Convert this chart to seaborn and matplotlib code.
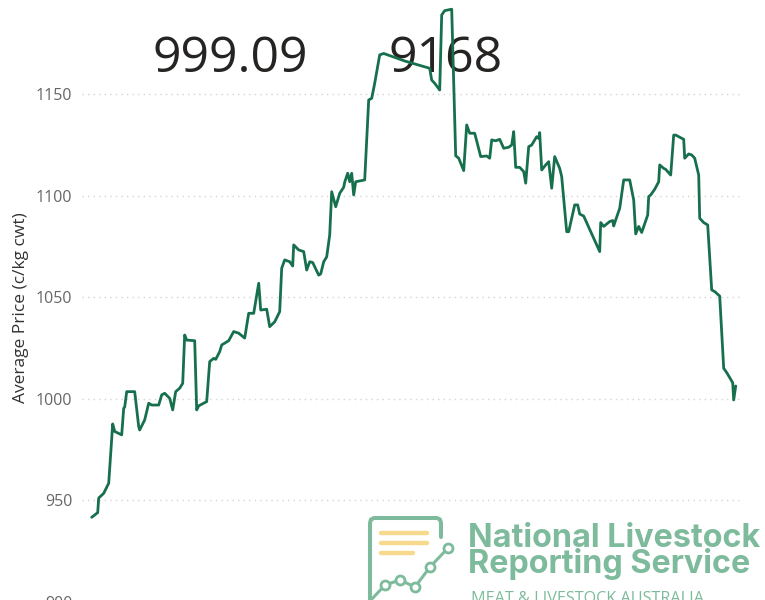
import pandas as pd
import matplotlib
matplotlib.use('Agg')
import matplotlib.pyplot as plt
import seaborn as sns

# --- palette ---
LINE_GREEN = '#17704d'
GRID_GREY = '#d4d4d4'
TICK_GREY = '#666666'
LABEL_DARK = '#333333'
HEAD_DARK = '#252423'
LOGO_TEAL = '#7dbb9c'
LOGO_YELLOW = '#f6d98c'

# --- data (day offset, c/kg cwt) ---
days = [0, 6, 7, 12, 17, 21, 23, 30, 32, 33, 35, 43, 47, 48, 53, 57, 60, 67, 70, 73,
        78, 81, 84, 88, 91, 93, 95, 103, 105, 107, 115, 118, 122, 124, 128, 130, 137, 142,
        147, 153, 157, 162, 167, 169, 175, 178, 183, 188, 190, 193, 198, 201, 202, 207,
        212, 215, 218, 221, 227, 229, 232, 235, 238, 240, 244, 248, 252, 253, 256, 258,
        260, 262, 264, 273, 277, 280, 283, 288, 292, 313, 338, 340, 343, 348, 350, 353,
        360, 364, 367, 372, 375, 378, 383, 389, 395, 398, 400, 404, 408, 412, 417, 420,
        422, 424, 428, 432, 434, 437, 440, 445, 447, 448, 450, 454, 457, 460, 463, 468,
        470, 475, 477, 483, 486, 488, 492, 508, 509, 512, 518, 521, 522, 524, 528, 532,
        538, 542, 544, 547, 550, 556, 557, 559, 563, 567, 568, 572, 574, 579, 582, 584,
        592, 593, 597, 600, 603, 607, 608, 612, 616, 620, 623, 628, 632, 635, 641, 642, 644]
prices = [941.7, 944.0, 951.2, 953.5, 958.5, 987.7, 984.0, 982.3, 995.4, 996.0,
          1003.6, 1003.6, 986.4, 984.7, 989.7, 997.9, 997.0, 997.0, 1002.0, 1002.8,
          1000.3, 994.6, 1003.6, 1005.3, 1007.7, 1031.5, 1029.0, 1028.7, 994.6, 996.6,
          998.7, 1018.4, 1020.0, 1019.5, 1023.3, 1026.6, 1028.7, 1033.2,
          1032.4, 1030.0, 1042.2, 1042.2, 1057.0, 1043.8, 1044.2, 1035.6, 1038.0, 1043.0,
          1064.4, 1068.5, 1067.6, 1065.5, 1075.9, 1073.4,
          1072.6, 1063.5, 1067.6, 1067.2, 1061.0, 1061.6, 1067.6, 1070.0, 1080.8, 1102.1,
          1094.7, 1101.3, 1104.3, 1106.8, 1111.2, 1107.0,
          1111.2, 1100.5, 1107.0, 1107.9, 1147.3, 1148.1, 1155.5, 1169.5, 1170.2, 1166.5,
          1162.9, 1157.1, 1155.5, 1152.2, 1189.2, 1191.3,
          1192.0, 1119.8, 1118.6, 1112.5, 1135.0, 1130.9, 1130.9, 1119.4, 1119.7, 1118.6,
          1127.6, 1127.2, 1127.9, 1123.5, 1124.0, 1125.1,
          1131.7, 1114.1, 1114.1, 1112.0, 1106.3, 1124.3, 1125.1, 1129.2, 1128.4, 1131.2,
          1112.8, 1115.3, 1116.9, 1103.8, 1119.4, 1113.6,
          1109.5, 1082.4, 1082.4, 1095.6, 1095.6, 1091.1, 1090.1, 1072.6, 1086.9, 1085.0,
          1087.4, 1087.9, 1085.2, 1088.2, 1093.9, 1107.9,
          1107.9, 1098.0, 1081.3, 1085.0, 1082.0, 1090.6, 1099.7, 1100.5, 1103.3, 1107.0,
          1115.3, 1113.6, 1113.1, 1110.3, 1130.0, 1130.0,
          1127.9, 1118.6, 1120.7, 1120.2, 1118.6, 1110.3, 1089.0, 1086.9, 1085.7, 1053.7,
          1052.9, 1050.7, 1015.1, 1013.0, 1008.0, 999.5, 1006.4]

y_ticks = [900, 950, 1000, 1050, 1100, 1150, 1200]
headline_values = ['999.09', '9168']
y_title = 'Average Price (c/kg cwt)'
logo_lines = ['National Livestock', 'Reporting Service', 'MEAT & LIVESTOCK AUSTRALIA']

sns.set_theme(style='white')
plt.rcParams['font.family'] = ['Open Sans', 'DejaVu Sans']

W, H = 765, 600
fig = plt.figure(figsize=(W / 100, H / 100), dpi=100)

# plot area runs a little past the figure edges, as in the cropped reference
ax = fig.add_axes([82 / W, -0.1, 660 / W, 1.2])
df = pd.DataFrame({'day': days, 'price': prices})
sns.lineplot(data=df, x='day', y='price', ax=ax, color=LINE_GREEN,
             linewidth=2.0, zorder=3)

ax.set_xlim(-9.7, 650.3)
ax.set_ylim(871.4, 1226.1)
ax.set_yticks(y_ticks)
ax.set_xticks([])
ax.set_xlabel('')
ax.set_ylabel(y_title, fontsize=12.5, color=LABEL_DARK)
ax.yaxis.set_label_coords(-0.08, 0.49)
ax.tick_params(axis='y', length=0, pad=7, labelsize=11.5, labelcolor=TICK_GREY)
ax.grid(axis='y', linestyle=(0, (1, 3)), color=GRID_GREY, linewidth=1)
ax.set_axisbelow(True)
for s in ax.spines.values():
    s.set_visible(False)

# big headline numbers sit behind the line
for txt, xc in zip(headline_values, [230, 446]):
    ax.text(xc / W, 1 - 72 / H, txt, transform=fig.transFigure, ha='center',
            va='baseline', fontsize=36, color=HEAD_DARK, zorder=1)

# --- NLRS logo, drawn in pixel space ---
lax = fig.add_axes([0, 0, 1, 1], zorder=5)
lax.set_xlim(0, W)
lax.set_ylim(H, 0)
lax.axis('off')
lax.patch.set_alpha(0)

frame_x = [370, 370, 371, 374, 437, 440, 441, 441]
frame_y = [605, 523, 519.5, 518, 518, 519.5, 523, 537]
lax.plot(frame_x, frame_y, color=LOGO_TEAL, lw=2.9,
         solid_capstyle='round', solid_joinstyle='round')
for y0, x1 in zip([533, 543, 553], [427, 427, 413]):
    lax.plot([381, x1], [y0, y0], color=LOGO_YELLOW, lw=3.2, solid_capstyle='round')
spark_x = [371, 385, 400, 415, 430, 448]
spark_y = [600, 585, 580, 587, 567, 548]
lax.plot(spark_x, spark_y, color=LOGO_TEAL, lw=2.2)
lax.scatter(spark_x[1:], spark_y[1:], s=42, facecolor='white',
            edgecolor=LOGO_TEAL, linewidths=2, zorder=3)

logo_font = ['Inter', 'DejaVu Sans']
t1 = lax.text(468, 547, logo_lines[0], fontsize=22, fontweight='bold',
              family=logo_font, color=LOGO_TEAL, va='baseline')
t2 = lax.text(468, 573, logo_lines[1], fontsize=22, fontweight='bold',
              family=logo_font, color=LOGO_TEAL, va='baseline')
t3 = lax.text(471, 603, logo_lines[2], fontsize=9.5, color=LOGO_TEAL, va='baseline')

fig.canvas.draw()
renderer = fig.canvas.get_renderer()
for t, target in [(t1, 292), (t2, 282), (t3, 233)]:
    w = t.get_window_extent(renderer=renderer).width
    t.set_fontsize(t.get_fontsize() * target / w)

fig.savefig('out.png', dpi=100)
